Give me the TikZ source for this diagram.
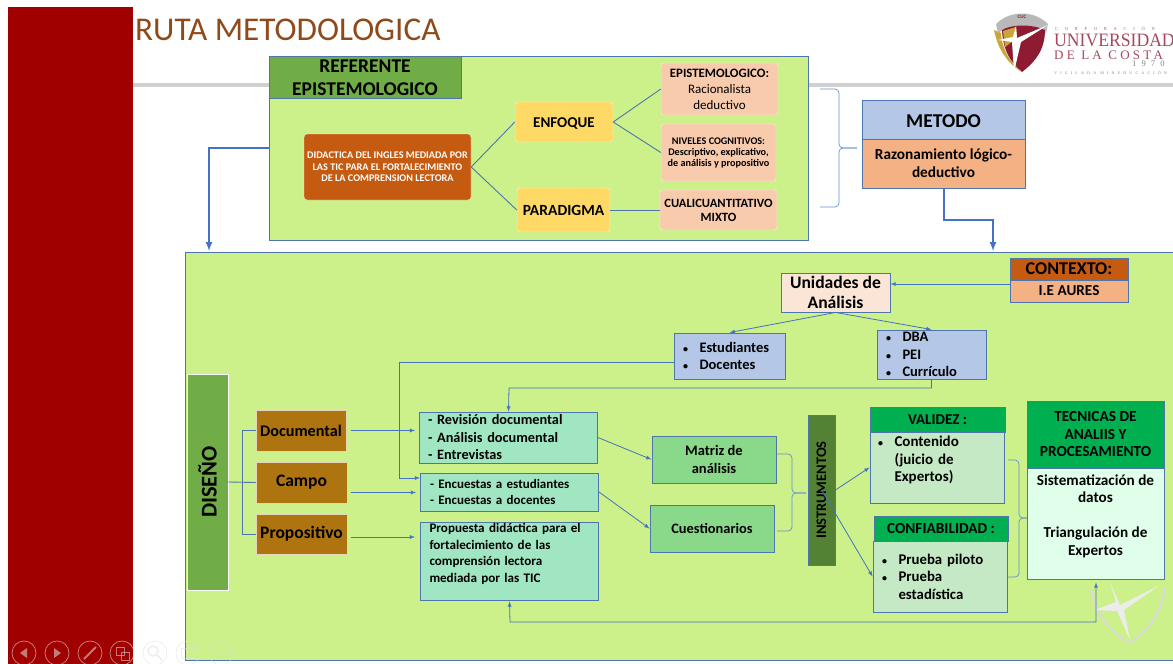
\documentclass[tikz,border=0pt]{standalone}
\usepackage{fontspec}
\setmainfont{Carlito}
\newfontfamily\logofont{Liberation Serif}
\newcommand{\listdot}{\makebox[20.5pt][l]{\hspace*{4pt}\fontsize{10}{10}\selectfont•}}
\definecolor{bandred}{HTML}{A00000}
\definecolor{titlebrown}{HTML}{8F4A1C}
\definecolor{rulegray}{HTML}{D0D0D0}
\definecolor{panelgreen}{HTML}{CCF08A}
\definecolor{frameblue}{HTML}{4F75AD}
\definecolor{linkblue}{HTML}{4472C4}
\definecolor{leafgreen}{HTML}{70AD47}
\definecolor{rust}{HTML}{C55A11}
\definecolor{butter}{HTML}{FFD966}
\definecolor{peach}{HTML}{F8CBAD}
\definecolor{skyblue}{HTML}{B4C7E7}
\definecolor{salmon}{HTML}{F4B183}
\definecolor{ochre}{HTML}{AE7410}
\definecolor{mint}{HTML}{A1E6C3}
\definecolor{grass}{HTML}{8AD88A}
\definecolor{moss}{HTML}{548235}
\definecolor{vivid}{HTML}{00B050}
\definecolor{pale}{HTML}{C5E9C5}
\definecolor{foam}{HTML}{E0FFEB}
\definecolor{cream}{HTML}{FBE5D6}
\definecolor{maroon}{HTML}{8E1B32}
\definecolor{gold}{HTML}{C9A63C}
\begin{document}
\begin{tikzpicture}[x=1pt,y=-1pt,>=latex,
    box/.style={draw=frameblue, line width=0.9pt, inner sep=0pt, align=center, font=\bfseries},
    softbox/.style={draw=white!70!panelgreen, rounded corners=3pt, inner sep=0pt, align=center, font=\bfseries},
    listbox/.style={draw=frameblue, line width=0.9pt, inner ysep=0pt, align=left, font=\bfseries},
    link/.style={draw=linkblue, line width=0.8pt},
    tree/.style={draw=frameblue, line width=0.9pt},
    fatlink/.style={draw=linkblue, line width=2pt},
    bracket/.style={draw=linkblue!80!white, line width=0.7pt, rounded corners=4pt},
    tool/.style={draw=white!75!gray, opacity=0.55, line width=0.8pt}]
   \useasboundingbox (0,0) rectangle (1173,664);
   % slide background
   \fill[bandred] (8,7) rectangle (133,664);
   \fill[rulegray] (133,83) rectangle (1173,87);
   \node[text=titlebrown, font=\fontsize{33.2}{36}\selectfont, anchor=west, inner sep=0pt] (title) at (135,30) {RUTA METODOLOGICA};

   % university logo
   \fill[gray!55] (996,24) .. controls (1010,10) and (1034,10) .. (1048,24) -- (1046,33) .. controls (1034,25) and (1010,25) .. (998,33) -- cycle;
   \fill[maroon] (1002,30) .. controls (1012,24) and (1032,24) .. (1045,30) .. controls (1045,50) and (1035,62) .. (1022,72) .. controls (1010,62) and (1003,50) .. (1002,30) -- cycle;
   \fill[gold] (994,30) -- (1001,33) .. controls (1002,50) and (1010,62) .. (1022,72) .. controls (1008,64) and (998,50) .. (994,30) -- cycle;
   \fill[gold] (1003,31) -- (1016,27) -- (1017,38) -- (1005,47) -- cycle;
   \fill[white] (1017,38) -- (1048,25) -- (1021,42) -- (1014,72) -- (1012,42) -- (998,40) -- (1013,37) -- (1016,26) -- cycle;
   \node[text=maroon!70!white, font=\logofont\addfontfeature{LetterSpace=150}\fontsize{4.5}{5}\selectfont, inner sep=0pt, anchor=west] (corp) at (1055,29) {CORPORACIÓN};
   \node[text=maroon!80!white, font=\logofont\fontsize{21}{21}\selectfont, inner sep=0pt, anchor=west] (univ) at (1054,40) {\scalebox{0.84}[0.9]{UNIVERSIDAD}};
   \node[text=maroon!80!white, font=\logofont\addfontfeature{LetterSpace=25}\fontsize{13}{13}\selectfont, inner sep=0pt, anchor=west] (costa) at (1054,55) {DE LA COSTA};
   \node[text=gray, font=\logofont\addfontfeature{LetterSpace=60}\fontsize{8.5}{9}\selectfont, inner sep=0pt, anchor=west] (year) at (1132,64) {1970};
   \node[text=gray, font=\logofont\addfontfeature{LetterSpace=80}\fontsize{4}{5}\selectfont, inner sep=0pt, anchor=west] (vigilada) at (1054,73) {VIGILADA MINEDUCACIÓN};
   \node[text=maroon, font=\bfseries\fontsize{5}{5}\selectfont, inner sep=0pt] (cuc) at (1022,17) {CUC};

   % upper panel
   \node[draw=frameblue, fill=panelgreen, minimum width=539pt, minimum height=184pt, inner sep=0pt] (referente) at (538.5,148) {};
   \node[box, fill=leafgreen, minimum width=192pt, minimum height=42pt, font=\bfseries\fontsize{19.5}{23}\selectfont] (refhead) at (365,77.5) {REFERENTE\\EPISTEMOLOGICO};
   \node[softbox, fill=rust, text=white, minimum width=167pt, minimum height=66pt, font=\bfseries\fontsize{10.2}{11.5}\selectfont] (tema) at (387.5,167) {DIDACTICA DEL INGLES MEDIADA POR\\LAS TIC PARA EL FORTALECIMIENTO\\DE LA COMPRENSION LECTORA};
   \node[softbox, fill=butter, minimum width=98pt, minimum height=40pt, text height=12pt, font=\bfseries\fontsize{15}{17}\selectfont] (enfoque) at (564,122) {ENFOQUE};
   \node[softbox, fill=butter, minimum width=93pt, minimum height=44pt, font=\bfseries\fontsize{15.5}{17}\selectfont] (paradigma) at (563.5,210) {PARADIGMA};
   \node[softbox, fill=peach, minimum width=117pt, minimum height=52pt, font=\bfseries\fontsize{12.8}{16}\selectfont] (episte) at (719.5,89) {EPISTEMOLOGICO:\\\fontsize{13}{15}\selectfont\mdseries Racionalista\\\fontsize{13}{15}\selectfont\mdseries deductivo};
   \node[softbox, fill=peach, minimum width=115pt, minimum height=57pt, font=\bfseries\fontsize{10.2}{11}\selectfont] (niveles) at (718.5,152.5) {NIVELES COGNITIVOS:\\Descriptivo, explicativo,\\de análisis y propositivo};
   \node[softbox, fill=peach, minimum width=117pt, minimum height=40pt, font=\bfseries\fontsize{12.6}{14}\selectfont] (cuali) at (718.5,210) {CUALICUANTITATIVO\\MIXTO};

   \draw[tree] (tema.east) to (enfoque.west);
   \draw[tree] (tema.east) to (paradigma.west);
   \draw[tree] (enfoque.east) to (episte.west);
   \draw[tree] (enfoque.east) to (niveles.west);
   \draw[tree] (paradigma.east) to (cuali.west);

   \coordinate (tipA) at (857,148);
   \draw[bracket] (820,89) -- (839,89) -- (839,148) -- (tipA);
   \draw[bracket] (820,207) -- (839,207) -- (839,148) -- (tipA);

   % metodo
   \node[box, fill=skyblue, minimum width=163pt, minimum height=39pt, text height=17pt, font=\bfseries\fontsize{19.6}{22}\selectfont] (metodo) at (943.5,119.5) {METODO};
   \node[box, fill=salmon, minimum width=163pt, minimum height=49pt, font=\bfseries\fontsize{15.3}{18}\selectfont] (razon) at (943.5,163.5) {Razonamiento lógico-\\deductivo};

   % lower panel
   \node[draw=frameblue, fill=panelgreen, minimum width=988pt, minimum height=408pt, inner sep=0pt] (diseno) at (679,456) {};
   \coordinate (panelin) at (209,251);
   \coordinate (panelout) at (993,251);
   \draw[fatlink,->] (referente.west |- 0,148) -| (panelin);
   \draw[fatlink,->] (razon.south) |- (993,220) -- (panelout);

   % faded logo
   \draw[white!70!gray, line width=2pt] (1091,590) .. controls (1096,615) and (1110,632) .. (1129,643) .. controls (1148,632) and (1160,615) .. (1165,588);
   \fill[white!85!gray] (1120,605) -- (1160,585) -- (1124,610) -- (1130,640) -- (1117,611) -- (1095,610) -- (1116,602) -- (1110,582) -- cycle;

   \node[draw=white, fill=leafgreen, minimum width=41pt, minimum height=216pt, inner sep=0pt] (disbox) at (207.5,482) {};
   \node[rotate=90, font=\bfseries\fontsize{22.5}{24}\selectfont, inner sep=0pt] (distext) at (disbox.center) {DISEÑO};
   \node[draw=white!70!ochre, fill=ochre, minimum width=90pt, minimum height=41pt, inner sep=0pt, font=\bfseries\fontsize{16.2}{18}\selectfont] (documental) at (301,430.5) {Documental};
   \node[draw=white!70!ochre, fill=ochre, minimum width=91pt, minimum height=41pt, inner sep=0pt, font=\bfseries\fontsize{17.5}{18}\selectfont] (campo) at (301.5,482.5) {Campo};
   \node[draw=white!70!ochre, fill=ochre, minimum width=91pt, minimum height=40pt, inner sep=0pt, font=\bfseries\fontsize{17.5}{18}\selectfont] (propositivo) at (301.5,534) {Propositivo};

   \draw[tree] (disbox.east) to (campo.west);
   \draw[tree] (242,482) |- (documental.west);
   \draw[tree] (242,482) |- (propositivo.west);

   \node[listbox, fill=mint, text width=169pt, inner xsep=4.5pt, minimum height=51pt, font=\bfseries\fontsize{14.3}{17.5}\selectfont] (revision) at (508.5,437.5) {\hspace*{4pt}- Revisión documental\\\hspace*{4pt}- Análisis documental\\\hspace*{4pt}- Entrevistas};
   \node[listbox, fill=mint, text width=169pt, inner xsep=4.5pt, minimum height=38pt, font=\bfseries\fontsize{13}{16.5}\selectfont] (encuestas) at (509.5,492) {\hspace*{5pt}- Encuestas a estudiantes\\\hspace*{5pt}- Encuestas a docentes};
   \node[listbox, fill=mint, text width=160pt, inner xsep=9pt, minimum height=78pt, font=\bfseries\fontsize{13.1}{16.5}\selectfont] (propuesta) at (509.5,561) {Propuesta didáctica para el\\fortalecimiento de las\\comprensión lectora\\mediada por las TIC\\~};

   \draw[link,->] ([xshift=5pt]documental.east) -- ([xshift=-4pt]documental.east -| revision.west);
   \draw[link,->] ([shift={(4pt,-10pt)}]campo.east) -- ([shift={(-4pt,-10pt)}]campo.east -| encuestas.west);
   \draw[link,->] ([shift={(4pt,-3pt)}]propositivo.east) -- ([shift={(-5pt,-3pt)}]propositivo.east -| propuesta.west);

   \node[box, fill=cream, minimum width=109pt, minimum height=39pt, font=\bfseries\fontsize{17.6}{20}\selectfont] (unidades) at (835.5,292.5) {Unidades de\\Análisis};
   \node[box, fill=rust, minimum width=118pt, minimum height=22pt, font=\bfseries\fontsize{18}{18}\selectfont] (contexto) at (1069,269) {CONTEXTO:};
   \node[box, fill=salmon, minimum width=118pt, minimum height=22pt, font=\bfseries\fontsize{15.2}{16}\selectfont] (aures) at (1069,291) {I.E AURES};
   \node[listbox, fill=skyblue, text width=101pt, inner xsep=5pt, minimum height=46pt, font=\bfseries\fontsize{14.5}{17.5}\selectfont] (estudiantes) at (729.5,356) {\listdot Estudiantes\\\listdot Docentes};
   \node[listbox, fill=skyblue, text width=99pt, inner xsep=5pt, minimum height=49pt, font=\bfseries\fontsize{14.5}{17.7}\selectfont] (dba) at (931.5,354.5) {\listdot DBA\\\listdot PEI\\\listdot Currículo};

   \draw[link,->] (aures.west |- 0,284) -- (unidades.east |- 0,284);
   \draw[link,->] (unidades.south) -- (estudiantes.north);
   \draw[link,->] (unidades.south) -- (dba.north);
   \draw[link,->] ([yshift=-6pt]estudiantes.west) -- (399,362) |- ([yshift=14pt]encuestas.west);
   \draw[link,->] (dba.south) |- (509,388) -- (revision.north);

   \node[box, fill=grass, minimum width=124pt, minimum height=47pt, font=\bfseries\fontsize{14.5}{17.5}\selectfont] (matriz) at (714,459.5) {Matriz de\\análisis};
   \node[box, fill=grass, minimum width=124pt, minimum height=47pt, font=\bfseries\fontsize{14.4}{17.5}\selectfont] (cuestionarios) at (712,528.5) {Cuestionarios};
   \draw[link,->] (revision.east) -- (matriz.west);
   \draw[link,->] (encuestas.east) -- (cuestionarios.west);

   \node[box, fill=moss, minimum width=27pt, minimum height=150pt] (instrumentos) at (821.5,490) {};
   \node[rotate=90, font=\bfseries\fontsize{14.5}{15}\selectfont, inner sep=0pt] (instext) at (instrumentos.center) {INSTRUMENTOS};

   \coordinate (tipB) at (806,493);
   \draw[bracket] (777,454) -- (792,454) -- (792,493) -- (tipB);
   \draw[bracket] (777,531) -- (792,531) -- (792,493) -- (tipB);

   \node[box, fill=vivid, minimum width=135pt, minimum height=25pt, font=\bfseries\fontsize{15}{15}\selectfont] (validez) at (937.5,419.5) {VALIDEZ :};
   \node[listbox, fill=pale, text width=126pt, inner xsep=4pt, minimum height=71pt, font=\bfseries\fontsize{15}{17.5}\selectfont] (valbody) at (937,467.5) {\listdot Contenido\\\hspace*{20.5pt}(juicio de\\\hspace*{20.5pt}Expertos)\\~};
   \node[box, fill=vivid, minimum width=134pt, minimum height=25pt, font=\bfseries\fontsize{15.3}{15}\selectfont] (confiab) at (941,528.5) {CONFIABILIDAD :};
   \node[listbox, fill=pale, text width=124pt, inner xsep=5pt, minimum height=71pt, font=\bfseries\fontsize{14.8}{17.5}\selectfont] (confbody) at (940,576.5) {\listdot Prueba piloto\\\listdot Prueba\\\hspace*{20.5pt}estadística};

   \draw[link,->] (instrumentos.east) -- (valbody.west);
   \draw[link,->] (instrumentos.center) -- (confbody.west);

   \node[box, fill=vivid, minimum width=137pt, minimum height=67pt, font=\bfseries\fontsize{15.3}{17.5}\selectfont] (tecnicas) at (1095.5,434.5) {TECNICAS DE\\ANALIIS Y\\PROCESAMIENTO};
   \node[box, fill=foam, minimum width=137pt, minimum height=111pt, font=\bfseries\fontsize{15.2}{17.5}\selectfont] (tecbody) at (1095.5,523.5) {Sistematización de\\datos\\~\\Triangulación de\\Expertos\\~};

   \coordinate (tipC) at (1027,518);
   \draw[bracket] (1008,460) -- (1019,460) -- (1019,518) -- (tipC);
   \draw[bracket] (1008,577) -- (1019,577) -- (1019,518) -- (tipC);

   \draw[link,<->] ([shift={(0.5pt,-3pt)}]tecbody.south) |- (510,622) -- ([yshift=-1pt]propuesta.south);

   % slide show toolbar
   \foreach \x in {24,57,90,122,155,188,221}
      \draw[tool] (\x,653) circle (12);
   \fill[white!75!gray, opacity=0.55] (27,648) -- (20,653) -- (27,658) -- cycle;
   \fill[white!75!gray, opacity=0.55] (54,648) -- (61,653) -- (54,658) -- cycle;
   \draw[tool, line width=2pt] (84,659) -- (96,647);
   \draw[tool] (116,647) rectangle (124,655);
   \draw[tool] (121,652) rectangle (129,660);
   \draw[tool, line width=1.5pt] (153,651) circle (5);
   \draw[tool, line width=1.5pt] (157,655) -- (162,660);
   \draw[tool] (181,648) rectangle (195,658);
   \foreach \x in {216,221,226}
      \fill[white!75!gray, opacity=0.55] (\x,653) circle (1.5);
 \end{tikzpicture}
\end{document}
